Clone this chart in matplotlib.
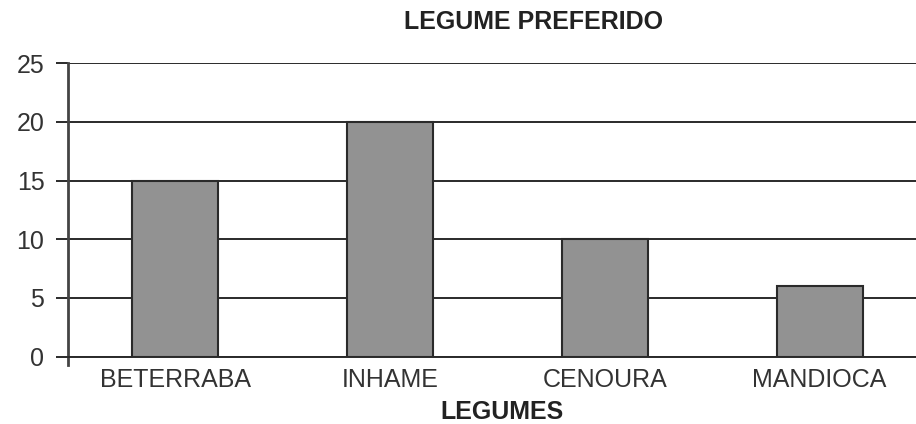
import matplotlib
matplotlib.use("Agg")
import matplotlib.pyplot as plt

categories = ["BETERRABA", "INHAME", "CENOURA", "MANDIOCA"]
values = [15, 20, 10, 6]
yticks = [0, 5, 10, 15, 20, 25]

W, H = 916, 424
fig = plt.figure(figsize=(W/100, H/100), dpi=100)
plt.rcParams['font.family'] = ['Liberation Sans', 'DejaVu Sans']
txt = '#333333'

left, right = 68, 927
top, bottom = 63.3, 356.5
ax = fig.add_axes([left/W, 1 - bottom/H, (right-left)/W, (bottom-top)/H])

x = list(range(len(categories)))
ax.bar(x, values, width=0.4, color='#929292', edgecolor='#2a2a2a', linewidth=1.5, zorder=3)
ax.set_xlim(-0.5, 3.5)
ax.set_ylim(0, 25)
ax.set_yticks(yticks)
ax.yaxis.grid(True, color='#2a2a2a', linewidth=1.4, zorder=0)
ax.set_axisbelow(True)
for s in ['top', 'right']:
    ax.spines[s].set_visible(False)
ax.spines['left'].set_color('#444444')
ax.spines['left'].set_linewidth(2)
ax.spines['left'].set_bounds(-0.7, 25)
ax.spines['bottom'].set_color('#2a2a2a')
ax.spines['bottom'].set_linewidth(1.4)
ax.set_xticks(x)
ax.set_xticklabels(categories)
ax.tick_params(axis='x', length=0, pad=8, labelsize=18, labelcolor=txt)
ax.tick_params(axis='y', length=9, width=1.4, color='#2a2a2a', pad=8, labelsize=18, labelcolor=txt)

fig.text(534/W, 1 - 22/H, "LEGUME PREFERIDO", ha='center', va='center',
         fontsize=18, fontweight='bold', color='#222222')
fig.text(502/W, 1 - 412/H, "LEGUMES", ha='center', va='center',
         fontsize=18, fontweight='bold', color='#222222')

fig.savefig("out.png", dpi=100)
